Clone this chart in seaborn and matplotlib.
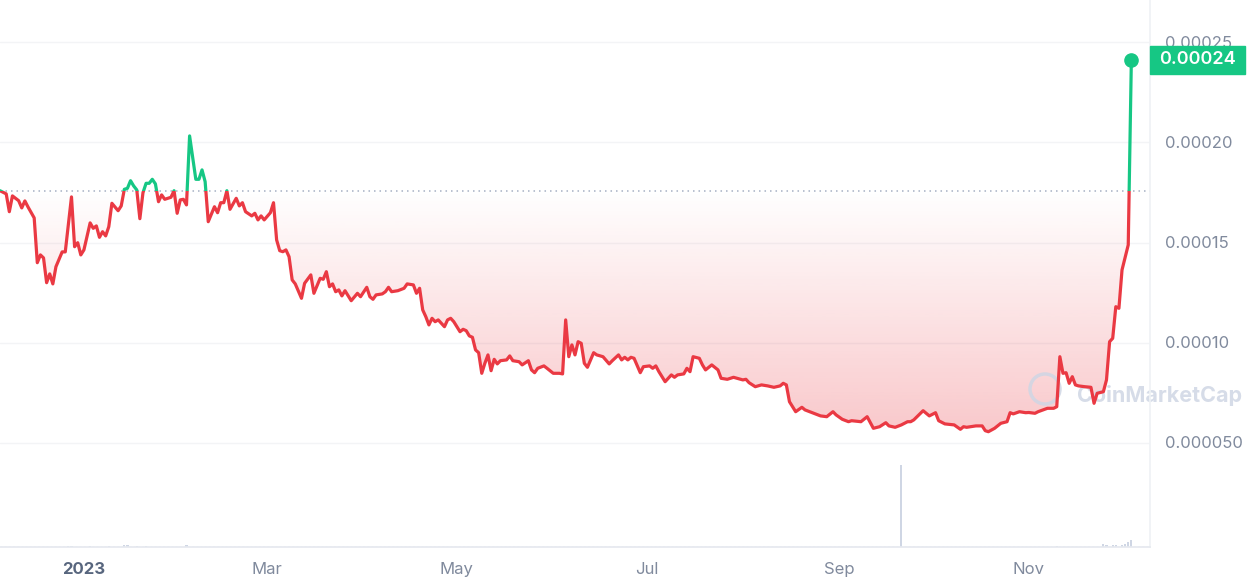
import numpy as np
import pandas as pd
import seaborn as sns
import matplotlib.pyplot as plt
import matplotlib.dates as mdates
from matplotlib.patches import Rectangle, Ellipse
from matplotlib.transforms import blended_transform_factory

sns.set_theme(style="white")
plt.rcParams['font.family'] = ['Inter', 'DejaVu Sans']

# price data (day offset from 2022-12-05, price in 1e-5 USD)
start = pd.Timestamp("2022-12-05")
days = [0, 2, 3, 4, 6, 7, 8, 9, 11, 12, 13, 14, 15, 16, 17, 18, 20, 21, 23, 24,
        25, 26, 27, 29, 30, 31, 32, 33, 34, 35, 36, 38, 39, 40, 41, 42, 43, 44, 45, 46,
        47, 48, 49, 50, 51, 52, 53, 55, 56, 57, 58, 59, 60, 61, 63, 64, 65, 66, 67, 69,
        70, 71, 72, 73, 74, 76, 77, 78, 79, 81, 82, 83, 84, 85, 87, 88, 89, 90, 91, 92,
        93, 94, 95, 97, 98, 100, 101, 103, 104, 105, 106, 107, 108, 109, 110, 111, 113, 115, 116, 118,
        119, 120, 121, 123, 124, 125, 126, 128, 130, 131, 133, 134, 135, 136, 137, 138, 139, 140, 141, 143,
        144, 145, 146, 148, 149, 150, 151, 152, 153, 154, 155, 156, 157, 158, 159, 160, 161, 163, 164, 165,
        167, 168, 170, 171, 172, 173, 175, 176, 178, 180, 181, 182, 183, 184, 185, 186, 187, 188, 189, 191,
        192, 194, 196, 197, 199, 200, 201, 202, 203, 204, 206, 207, 209, 210, 211, 212, 214, 216, 217, 218,
        220, 221, 222, 223, 225, 226, 227, 229, 231, 232, 234, 236, 239, 240, 241, 243, 245, 247, 249, 251,
        252, 253, 254, 256, 258, 259, 264, 266, 268, 269, 271, 273, 274, 277, 279, 281, 283, 285, 286, 288,
        290, 292, 293, 294, 297, 299, 301, 302, 304, 307, 309, 310, 311, 314, 316, 317, 318, 320, 322, 324,
        325, 326, 328, 330, 331, 333, 334, 337, 339, 340, 341, 342, 343, 344, 345, 346, 347, 349, 351, 352,
        353, 355, 356, 357, 358, 359, 360, 361, 363, 364]
price_e5 = [17.59, 17.43, 16.54, 17.33, 17.09, 16.73, 17.08, 16.78, 16.23, 13.99, 14.38, 14.23, 12.99, 13.43, 12.93, 13.79, 14.53, 14.53, 17.28, 14.79,
            14.99, 14.38, 14.63, 15.98, 15.71, 15.83, 15.26, 15.54, 15.33, 15.79, 16.96, 16.59, 16.83, 17.66, 17.71, 18.09, 17.83, 17.63, 16.19, 17.49,
            17.96, 17.96, 18.16, 17.93, 17.04, 17.38, 17.16, 17.26, 17.59, 16.46, 17.13, 17.16, 16.88, 20.33, 18.16, 18.16, 18.63, 18.04, 16.04, 16.79,
            16.49, 16.99, 16.99, 17.59, 16.66, 17.21, 16.83, 16.99, 16.54, 16.33, 16.46, 16.13, 16.33, 16.13, 16.49, 16.99, 15.13, 14.59, 14.54, 14.63,
            14.29, 13.13, 12.93, 12.21, 12.96, 13.38, 12.46, 13.21, 13.16, 13.54, 12.79, 12.93, 12.54, 12.63, 12.33, 12.59, 12.09, 12.46, 12.29, 12.76,
            12.29, 12.16, 12.38, 12.43, 12.54, 12.76, 12.54, 12.59, 12.71, 12.93, 12.88, 12.46, 12.71, 11.63, 11.29, 10.88, 11.21, 11.04, 11.13, 10.79,
            11.13, 11.21, 11.04, 10.54, 10.66, 10.59, 10.33, 10.26, 9.63, 9.49, 8.46, 8.96, 9.38, 8.59, 9.16, 8.93, 9.09, 9.13, 9.33, 9.09,
            9.04, 8.88, 9.09, 8.63, 8.49, 8.71, 8.83, 8.71, 8.46, 8.46, 8.43, 11.13, 9.29, 9.88, 9.38, 10.04, 9.96, 8.96, 8.76, 9.49,
            9.38, 9.29, 8.93, 9.09, 9.38, 9.13, 9.26, 9.13, 9.26, 9.21, 8.49, 8.79, 8.83, 8.71, 8.83, 8.54, 8.04, 8.38, 8.26, 8.38,
            8.43, 8.71, 8.54, 9.29, 9.21, 8.88, 8.63, 8.88, 8.63, 8.21, 8.16, 8.26, 8.13, 8.16, 7.99, 7.79, 7.88, 7.83, 7.76, 7.83,
            7.96, 7.88, 7.04, 6.54, 6.76, 6.63, 6.33, 6.29, 6.54, 6.38, 6.16, 6.04, 6.09, 6.04, 6.29, 5.71, 5.79, 5.99, 5.83, 5.76,
            5.88, 6.04, 6.04, 6.13, 6.59, 6.33, 6.49, 6.09, 5.93, 5.88, 5.66, 5.79, 5.76, 5.83, 5.83, 5.59, 5.54, 5.71, 5.96, 6.04,
            6.49, 6.43, 6.54, 6.49, 6.50, 6.46, 6.54, 6.71, 6.71, 6.79, 9.29, 8.46, 8.49, 7.96, 8.29, 7.88, 7.83, 7.79, 7.76, 6.96,
            7.46, 7.54, 8.13, 10.04, 10.21, 11.79, 11.71, 13.63, 14.88, 24.13]

# volume bars (relative units), only the visible ones
vol_days = [22, 23, 29, 35, 40, 41, 44, 47, 60, 290, 340, 355, 356, 358, 359, 361, 362, 363, 364]
vol_vals = [1.2, 1.0, 0.9, 0.9, 2.5, 2.0, 0.9, 0.9, 2.5, 100, 1.0, 3.2, 3.0, 2.5, 2.5, 2.5, 3.5, 6.0, 8.5]

yticks = [5e-5, 10e-5, 15e-5, 20e-5, 25e-5]
ytick_labels = ["0.000050", "0.00010", "0.00015", "0.00020", "0.00025"]
xtick_dates = ["2023-01-01", "2023-03-01", "2023-05-01", "2023-07-01", "2023-09-01", "2023-11-01"]
xtick_labels = ["2023", "Mar", "May", "Jul", "Sep", "Nov"]

red = "#EA3943"
green = "#16C784"
grey_txt = "#808A9D"

dates = start + pd.to_timedelta(days, unit="D")
price = np.array(price_e5) * 1e-5
ref = price[0]
df = pd.DataFrame({"date": dates, "price": price})

fig = plt.figure(figsize=(12.56, 5.87), dpi=100)
rect = [0, 40 / 587, 1150 / 1256, 547 / 587]
xmin = mdates.date2num(start)
xmax = mdates.date2num(start + pd.Timedelta(days=370))

# volume axis behind
vax = fig.add_axes(rect)
vdates = mdates.date2num(start + pd.to_timedelta(vol_days, unit="D"))
vax.bar(vdates, vol_vals, width=0.7, color="#CFD6E4", linewidth=0)
vax.axhline(0.3, color="#CFD6E4", lw=1, ls=(0, (1.5, 1.5)))
vax.set_xlim(xmin, xmax)
vax.set_ylim(0, 100 * 547 / 82)
vax.axis("off")

ax = fig.add_axes(rect)
ax.patch.set_alpha(0)
ax.set_xlim(xmin, xmax)
ax.set_ylim(-2.25e-6, 2.7125e-4)

for v in yticks:
    ax.axhline(v, color="#F3F4F6", lw=1, zorder=0)
ax.axhline(ref, color="#A6B0C3", lw=1.1, ls=(0, (1, 2.6)), zorder=1)

# gradient fill under the reference line
poly = ax.fill_between(mdates.date2num(dates), np.minimum(price, ref), ref,
                       facecolor="none", edgecolor="none")
yy = np.linspace(0, ref, 300)
alpha = np.clip(0.3 * (ref - yy) / (ref - 4.5e-5), 0, 0.3)
grad = np.zeros((300, 1, 4))
grad[:, 0, :3] = (234 / 255, 57 / 255, 67 / 255)
grad[:, 0, 3] = alpha
im = ax.imshow(grad, extent=[xmin, xmax, 0, ref], origin="lower", aspect="auto", zorder=1)
im.set_clip_path(poly.get_paths()[0], transform=ax.transData)

# watermark (under the line)
ax.text(1077 / 1256, 1 - 395 / 587, "CoinMarketCap", transform=fig.transFigure, fontsize=15.5,
        fontweight="bold", color="#CFD6E4", alpha=0.85, va="center", ha="left", zorder=2)
ax.add_patch(Ellipse((1045 / 1256, 1 - 389 / 587), 30 / 1256, 30 / 587, transform=fig.transFigure,
                     fill=False, ec="#CFD6E4", lw=2.5, alpha=0.85, zorder=2, clip_on=False))

sns.lineplot(data=df, x="date", y="price", ax=ax, color=red, lw=2.3, zorder=3)
sns.lineplot(data=df, x="date", y="price", ax=ax, color=green, lw=2.3, zorder=3)
red_line, green_line = ax.lines[-2], ax.lines[-1]
red_line.set_clip_path(Rectangle((xmin - 50, -1), 500, 1 + ref, transform=ax.transData))
green_line.set_clip_path(Rectangle((xmin - 50, ref), 500, 1, transform=ax.transData))
ax.plot(mdates.date2num(dates[-1]), price[-1], "o", color=green, ms=9.5, zorder=4)

ax.set_xlim(xmin, xmax)
ax.set_ylim(-2.25e-6, 2.7125e-4)
ax.set_xlabel("")
ax.set_ylabel("")

ax.yaxis.tick_right()
ax.set_yticks(yticks)
ax.set_yticklabels(ytick_labels)
ax.tick_params(axis="y", length=0, pad=11, labelsize=12, labelcolor=grey_txt)
ax.set_xticks(mdates.date2num(pd.to_datetime(xtick_dates)))
ax.set_xticklabels(xtick_labels)
ax.tick_params(axis="x", length=5, width=1, color="#E6E9EF", pad=6, labelsize=12, labelcolor=grey_txt)
ax.get_xticklabels()[0].set_fontweight("bold")
ax.get_xticklabels()[0].set_color("#58667E")

for s in ["top", "left"]:
    ax.spines[s].set_visible(False)
ax.spines["bottom"].set_color("#E6E9EF")
ax.spines["right"].set_color("#EFF2F5")

# current price tag
bt = blended_transform_factory(ax.transAxes, ax.transData)
ax.add_patch(Rectangle((1.0, price[-1] - 14 * 5e-7), 95 / 1150, 28 * 5e-7,
                       transform=bt, color=green, clip_on=False, zorder=5))
ax.text(1.0 + 47.5 / 1150, price[-1], "0.00024", transform=bt, ha="center", va="center",
        color="white", fontsize=13, fontweight="semibold", zorder=6)

fig.savefig("out.png", dpi=100)
